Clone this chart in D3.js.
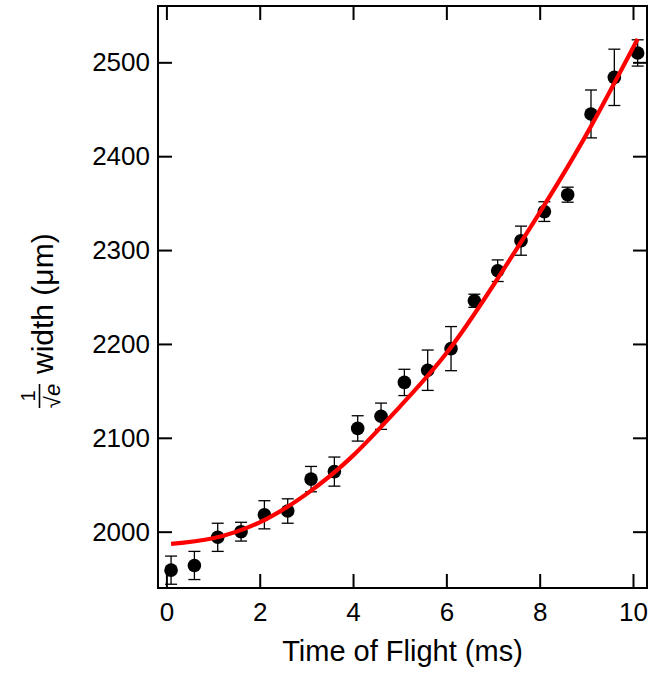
<!DOCTYPE html>
<html>
<head>
<meta charset="utf-8">
<script src="https://cdn.jsdelivr.net/npm/d3@7"></script>
<style>
  html, body { margin: 0; padding: 0; background: #fff; }
  svg { display: block; }
  text { font-family: "Liberation Sans", Arial, sans-serif; fill: #000; }
</style>
</head>
<body>
<svg id="chart" width="652" height="675"></svg>
<script>
// Measured cloud width (1/sqrt(e) radius) vs. time of flight
const timeMs   = [0.1, 0.6, 1.1, 1.6, 2.1, 2.6, 3.1, 3.6, 4.1, 4.6, 5.1, 5.6, 6.1, 6.6, 7.1, 7.6, 8.1, 8.6, 9.1, 9.6, 10.1];
const widthUm  = [1959, 1964, 1994, 2000, 2018, 2022, 2056, 2064, 2110, 2123, 2159, 2172, 2195, 2246, 2278, 2310, 2341, 2359, 2445, 2484, 2510];
const widthErr = [15, 15, 15, 10, 15, 13, 13.5, 15.5, 13.5, 14, 14, 21.5, 23.5, 7, 11.5, 15.5, 10.5, 8, 25.5, 30, 14];

// Expansion fit curve, sampled
const fitTime  = [0.1, 1, 2, 3, 4, 5, 6, 7, 8, 9, 10.1];
const fitWidth = [1987, 1993, 2010, 2040, 2081, 2133, 2190, 2262, 2340, 2423, 2525];

const xTicks = [0, 2, 4, 6, 8, 10];
const yTicks = [2000, 2100, 2200, 2300, 2400, 2500];

const svg = d3.select("#chart");
const plotL = 158, plotR = 647, plotT = 6, plotB = 588;

const x = d3.scaleLinear().domain([-0.18, 10.3]).range([plotL, plotR]);
const y = d3.scaleLinear().domain([1940, 2560]).range([plotB, plotT]);

const tickLen = 14;

// axes: ticks point inward on all four sides
const axisBottom = d3.axisBottom(x).tickValues(xTicks).tickSize(-tickLen).tickPadding(15).tickFormat(d3.format("d"));
const axisTop = d3.axisTop(x).tickValues(xTicks).tickSize(-tickLen).tickFormat("");
const axisLeft = d3.axisLeft(y).tickValues(yTicks).tickSize(-tickLen).tickPadding(8).tickFormat(d3.format("d"));
const axisRight = d3.axisRight(y).tickValues(yTicks).tickSize(-tickLen).tickFormat("");

function styleAxis(g) {
  g.select(".domain").remove();
  g.selectAll(".tick line").attr("stroke", "#000").attr("stroke-width", 2);
  g.selectAll(".tick text").attr("font-size", 26).attr("font-family", "Liberation Sans, Arial, sans-serif").attr("fill", "#000");
}

svg.append("g").attr("transform", `translate(0,${plotB})`).call(axisBottom).call(styleAxis);
svg.append("g").attr("transform", `translate(0,${plotT})`).call(axisTop).call(styleAxis);
svg.append("g").attr("transform", `translate(${plotL},0)`).call(axisLeft).call(styleAxis);
svg.append("g").attr("transform", `translate(${plotR},0)`).call(axisRight).call(styleAxis);

// frame
svg.append("rect")
  .attr("x", plotL).attr("y", plotT)
  .attr("width", plotR - plotL).attr("height", plotB - plotT)
  .attr("fill", "none").attr("stroke", "#000").attr("stroke-width", 2);

const points = timeMs.map((t, i) => ({ t, w: widthUm[i], e: widthErr[i] }));

// error bars
const capHalf = 6;
const eb = svg.append("g").attr("stroke", "#000").attr("stroke-width", 1.3);
points.forEach(p => {
  const cx = x(p.t), y0 = y(p.w - p.e), y1 = y(p.w + p.e);
  eb.append("line").attr("x1", cx).attr("x2", cx).attr("y1", y0).attr("y2", y1);
  eb.append("line").attr("x1", cx - capHalf).attr("x2", cx + capHalf).attr("y1", y0).attr("y2", y0);
  eb.append("line").attr("x1", cx - capHalf).attr("x2", cx + capHalf).attr("y1", y1).attr("y2", y1);
});

// markers
svg.append("g").selectAll("circle").data(points).join("circle")
  .attr("cx", d => x(d.t)).attr("cy", d => y(d.w)).attr("r", 6.8).attr("fill", "#000");

// fit line
const fitData = fitTime.map((t, i) => [t, fitWidth[i]]);
svg.append("path")
  .datum(fitData)
  .attr("d", d3.line().x(d => x(d[0])).y(d => y(d[1])).curve(d3.curveNatural))
  .attr("fill", "none").attr("stroke", "#ff0000").attr("stroke-width", 4.2);

// x title
svg.append("text")
  .attr("x", (plotL + plotR) / 2).attr("y", 661)
  .attr("text-anchor", "middle").attr("font-size", 29)
  .text("Time of Flight (ms)");

// y title: 1/sqrt(e) fraction followed by "width (μm)"
const yl = svg.append("g").attr("transform", "translate(53,316) rotate(-90)");
const fracCx = -80;
yl.append("text").attr("x", fracCx).attr("y", -18).attr("text-anchor", "middle").attr("font-size", 20).text("1");
yl.append("line").attr("x1", fracCx - 12).attr("x2", fracCx + 12).attr("y1", -13.5).attr("y2", -13.5)
  .attr("stroke", "#000").attr("stroke-width", 1.6);
const den = yl.append("text").attr("x", fracCx).attr("y", 7).attr("text-anchor", "middle").attr("font-size", 22);
den.append("tspan").text("\u221A");
den.append("tspan").attr("font-style", "italic").text("e");
yl.append("text").attr("x", -58).attr("y", 0).attr("font-size", 30).text("width (\u03BCm)");
</script>
</body>
</html>
